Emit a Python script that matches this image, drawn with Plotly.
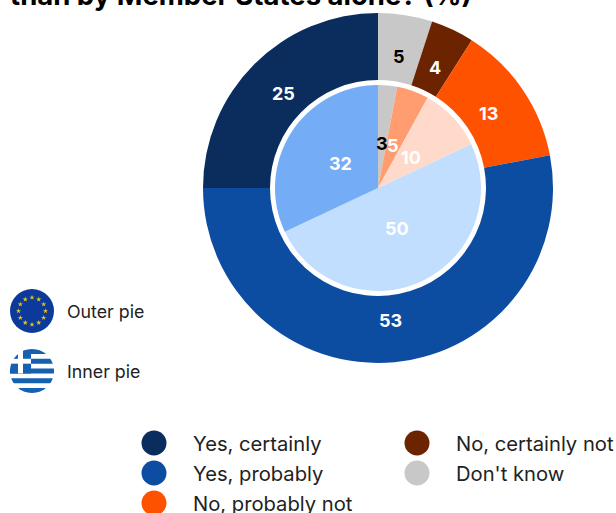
import math
import numpy as np
import plotly.graph_objects as go

categories = ["Don't know", "No, certainly not", "No, probably not", "Yes, probably", "Yes, certainly"]
outer_values = [5, 4, 13, 53, 25]
inner_values = [3, 5, 10, 50, 32]
outer_colors = ["#C8C8C8", "#6B2300", "#FF5200", "#0C4DA2", "#0A2D5E"]
inner_colors = ["#C8C8C8", "#FF9D70", "#FFD9C9", "#C2DEFF", "#74ADF5"]
outer_label_colors = ["#000000", "#FFFFFF", "#FFFFFF", "#FFFFFF", "#FFFFFF"]
inner_label_colors = ["#000000", "#FFFFFF", "#FFFFFF", "#FFFFFF", "#FFFFFF"]
legend_col1 = ["Yes, certainly", "Yes, probably", "No, probably not"]
legend_col2 = ["No, certainly not", "Don't know"]
title_text = "than by Member States alone? (%)"
pie_names = ["Outer pie", "Inner pie"]

W, H = 616, 513
CX, CY, R_OUT, R_HOLE, R_IN = 378, 188, 175, 108, 103
FONT = "Inter, Lato, sans-serif"
color_of = dict(zip(categories, outer_colors))


def dom(r):
    return dict(x=[(CX - r) / W, (CX + r) / W], y=[1 - (CY + r) / H, 1 - (CY - r) / H])


fig = go.Figure()
fig.add_trace(go.Pie(values=outer_values, labels=categories, sort=False, direction="clockwise", rotation=0,
                     hole=R_HOLE / R_OUT, domain=dom(R_OUT), marker=dict(colors=outer_colors, line=dict(width=0)),
                     textinfo="none", showlegend=False, name="Outer pie"))
fig.add_trace(go.Pie(values=inner_values, labels=categories, sort=False, direction="clockwise", rotation=0,
                     domain=dom(R_IN), marker=dict(colors=inner_colors, line=dict(width=0)),
                     textinfo="none", showlegend=False, name="Inner pie"))

annotations = []


def pie_labels(values, colors, radius):
    total = sum(values)
    run = 0
    for v, c in zip(values, colors):
        a = 2 * math.pi * (run + v / 2) / total
        run += v
        annotations.append(dict(x=CX + radius * math.sin(a), y=CY - radius * math.cos(a), xref="x", yref="y",
                                text=f"<b>{v}</b>", showarrow=False, xanchor="center", yanchor="middle",
                                font=dict(family=FONT, size=18, color=c)))


pie_labels(outer_values, outer_label_colors, 133)
pie_labels(inner_values, inner_label_colors, 45)

# category key
for names, x0 in ((legend_col1, 154), (legend_col2, 417)):
    for i, n in enumerate(names):
        y = 443 + 30 * i
        fig.add_trace(go.Scatter(x=[x0], y=[y], mode="markers", name=n, showlegend=False, hoverinfo="name",
                                 marker=dict(size=25, color=color_of[n], line=dict(width=0))))
        annotations.append(dict(x=x0 + 37, y=y, xref="x", yref="y", text=n, showarrow=False, xanchor="left",
                                yanchor="middle", font=dict(family=FONT, size=20.2, color="#222222")))

# pie key
for n, y in zip(pie_names, (311, 371)):
    annotations.append(dict(x=65, y=y, xref="x", yref="y", text=n, showarrow=False, xanchor="left",
                            yanchor="middle", font=dict(family=FONT, size=17.8, color="#222222")))

# title cut by the top edge
annotations.append(dict(x=8 / W, y=1 - 14 / H, xref="paper", yref="paper", text=f"<b>{title_text}</b>",
                        showarrow=False, xanchor="left", yanchor="bottom",
                        font=dict(family=FONT, size=27.5, color="#000000")))

# flags
FX, EU_Y, GR_Y, FR = 32, 311, 371, 22
shapes = [dict(type="circle", xref="x", yref="y", x0=FX - FR, x1=FX + FR, y0=EU_Y - FR, y1=EU_Y + FR,
               fillcolor="#0B3A9A", line=dict(width=0), layer="below"),
          dict(type="circle", xref="x", yref="y", x0=FX - FR, x1=FX + FR, y0=GR_Y - FR, y1=GR_Y + FR,
               fillcolor="#FFFFFF", line=dict(width=0), layer="below")]
ang = np.arange(12) * math.pi / 6
fig.add_trace(go.Scatter(x=FX + 13.5 * np.sin(ang), y=EU_Y - 13.5 * np.cos(ang), mode="markers", showlegend=False,
                         hoverinfo="skip", marker=dict(symbol="star", size=4, color="#E8C020", line=dict(width=0))))


def chord_band(y0, y1, x_max=None):
    ys = np.linspace(y0, y1, 12)
    half = np.sqrt(np.maximum(FR ** 2 - (ys - GR_Y) ** 2, 0))
    right = FX + half if x_max is None else np.minimum(FX + half, x_max)
    pts = list(zip(right, ys)) + list(zip((FX - half)[::-1], ys[::-1]))
    return "M" + " L".join(f"{a:.2f},{b:.2f}" for a, b in pts) + " Z"


sw = 2 * FR / 9
top = GR_Y - FR
for i in (0, 2, 4, 6, 8):
    shapes.append(dict(type="path", xref="x", yref="y", path=chord_band(top + i * sw, top + (i + 1) * sw),
                       fillcolor="#1560B0", line=dict(width=0), layer="below"))
# canton: blue block with white cross
shapes.append(dict(type="path", xref="x", yref="y", path=chord_band(top, top + 5 * sw, x_max=FX - 1),
                   fillcolor="#1560B0", line=dict(width=0), layer="below"))
shapes.append(dict(type="rect", xref="x", yref="y", x0=FX - FR, x1=FX - 1, y0=top + 2 * sw, y1=top + 3 * sw,
                   fillcolor="#FFFFFF", line=dict(width=0), layer="below"))
shapes.append(dict(type="rect", xref="x", yref="y", x0=FX - 14, x1=FX - 9, y0=top, y1=top + 5 * sw,
                   fillcolor="#FFFFFF", line=dict(width=0), layer="below"))

fig.update_layout(width=W, height=H, margin=dict(l=0, r=0, t=0, b=0), paper_bgcolor="#FFFFFF", plot_bgcolor="#FFFFFF",
                  xaxis=dict(range=[0, W], visible=False, domain=[0, 1], fixedrange=True),
                  yaxis=dict(range=[H, 0], visible=False, domain=[0, 1], fixedrange=True),
                  showlegend=False, annotations=annotations, shapes=shapes)
fig.write_html("out.html", config=dict(displayModeBar=False),
               post_script="document.body.style.margin='0';document.documentElement.style.overflow='hidden';")
